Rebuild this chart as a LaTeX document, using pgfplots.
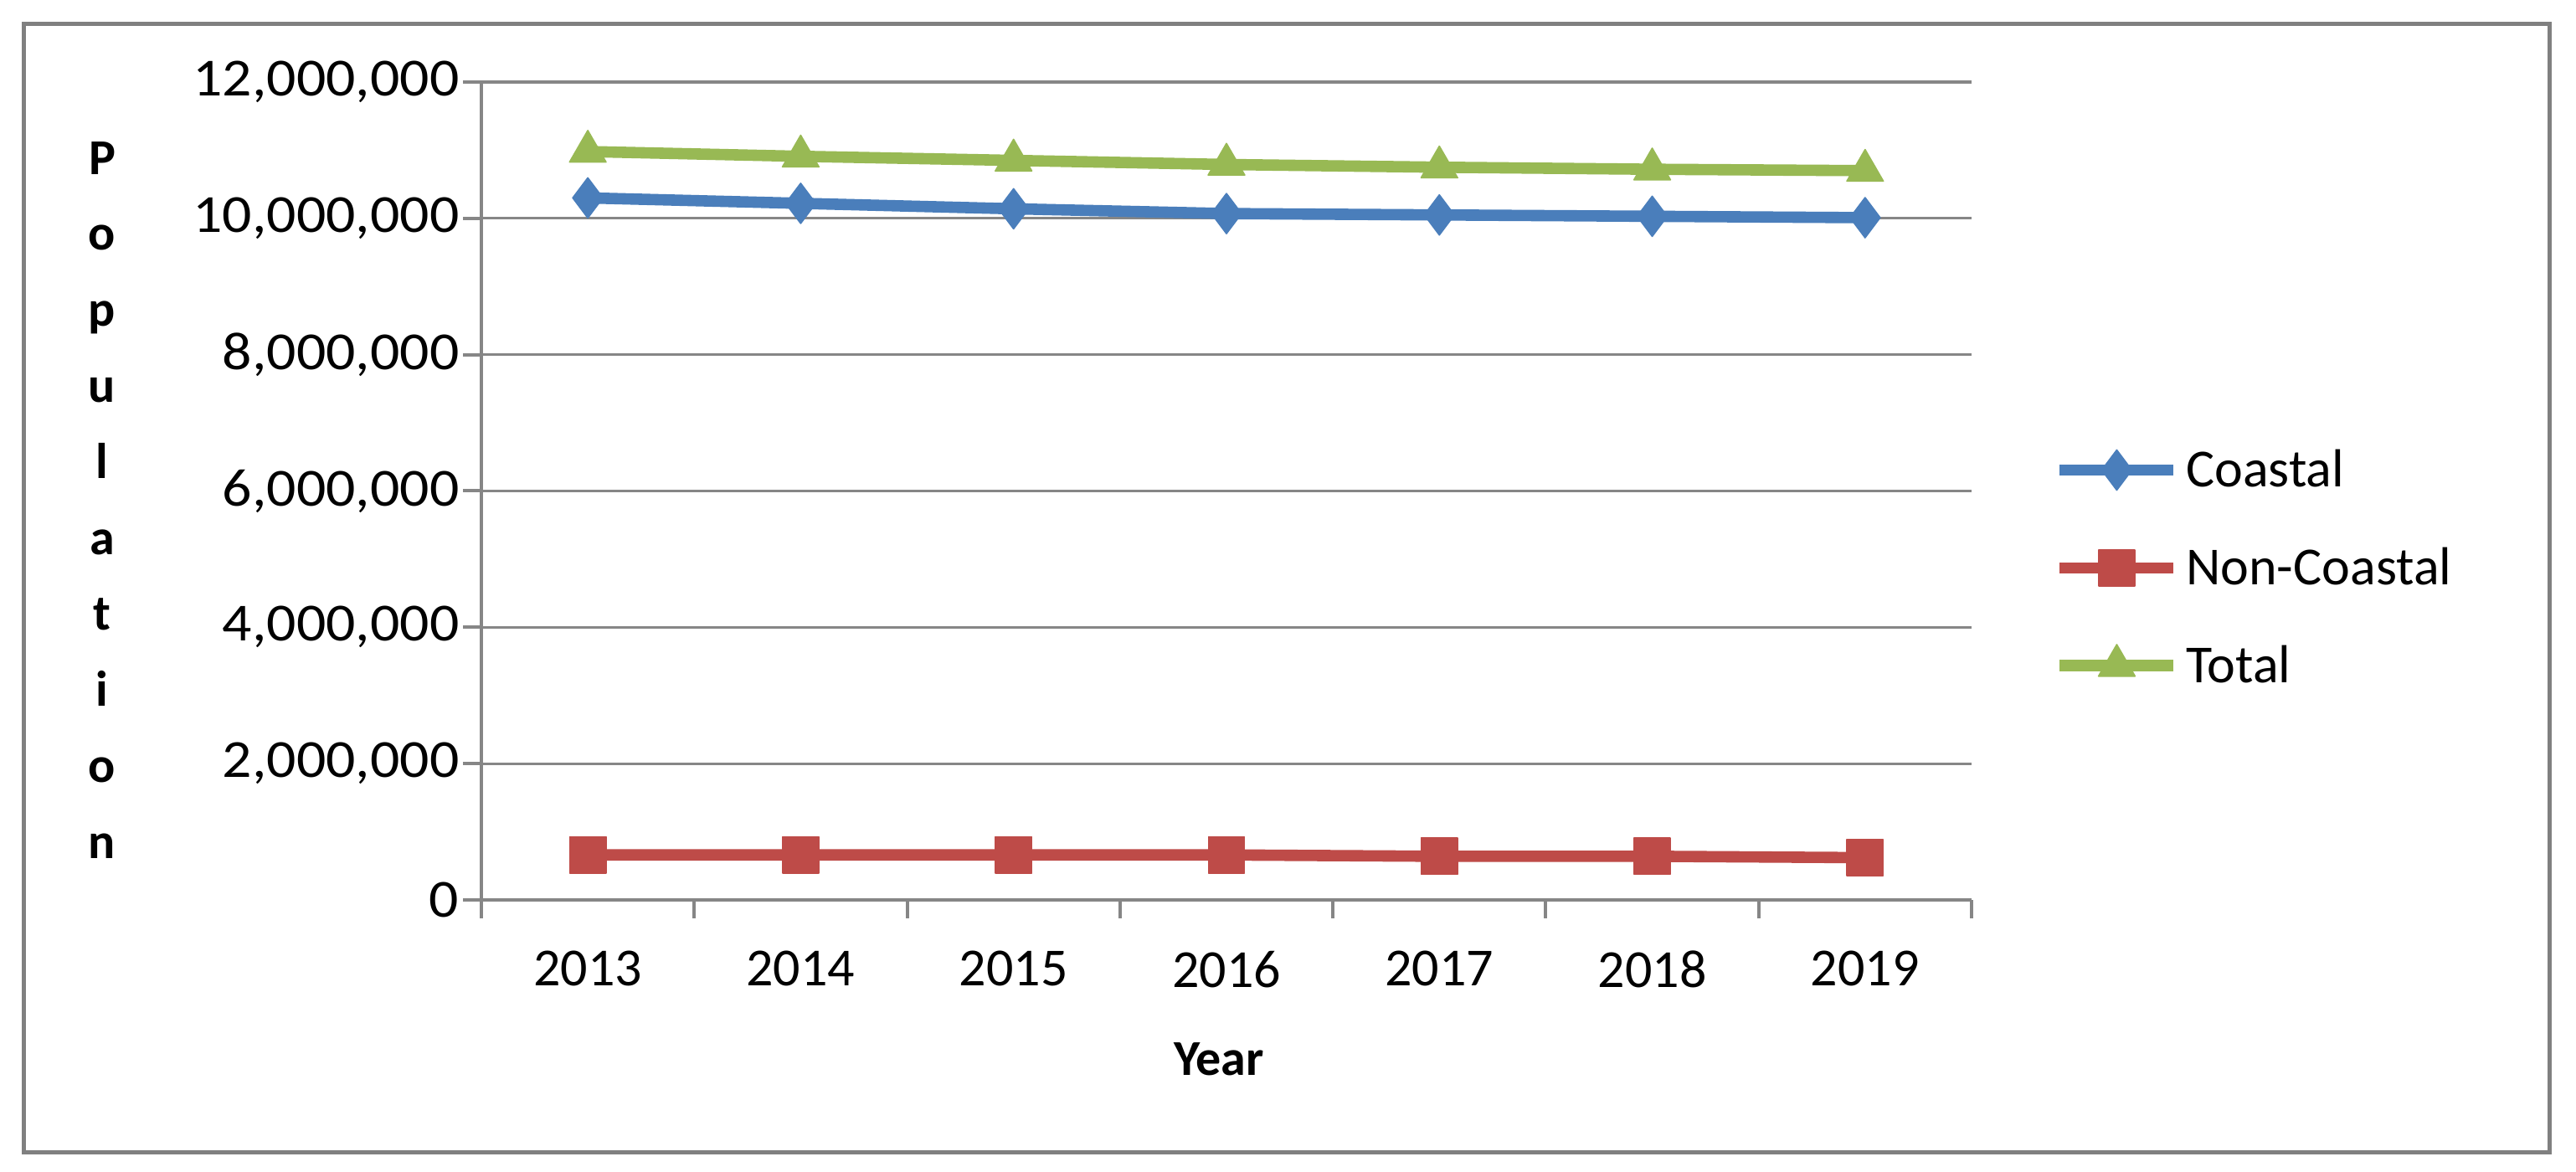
\documentclass[border=0pt]{standalone}
\usepackage{fontspec}
\setmainfont{Carlito}
\usepackage{pgfplots}
\pgfplotsset{compat=1.18}
\definecolor{cblue}{HTML}{4A7EBB}
\definecolor{cred}{HTML}{BE4B48}
\definecolor{cgreen}{HTML}{98B954}
\definecolor{gridgray}{HTML}{868686}
\definecolor{framegray}{HTML}{808080}
\begin{document}
\begin{tikzpicture}
\useasboundingbox (-143.75pt,-81.25pt) rectangle (625.5pt,268.75pt);
\fill[white] (-143.75pt,-81.25pt) rectangle (625.5pt,268.75pt);
\draw[framegray, line width=1.25pt] (-136.5pt,-75.5pt) rectangle (617.5pt,261.5pt);
\begin{axis}[
  at={(0,0)}, anchor=south west,
  scale only axis, width=445pt, height=244.25pt,
  xmin=2012.5, xmax=2019.5, ymin=0, ymax=12000000,
  axis x line=bottom, axis y line=left,
  axis line style={-, draw=gridgray, line width=1pt},
  tick align=outside, major tick length=5.5pt,
  tick style={gridgray, line width=1pt},
  scaled y ticks=false,
  xtick={2012.5,2013.5,2014.5,2015.5,2016.5,2017.5,2018.5,2019.5},
  xticklabels={},
  extra x ticks={2013,2014,2015,2016,2017,2018,2019},
  extra x tick labels={2013,2014,2015,2016,2017,2018,2019},
  extra x tick style={major tick length=0pt, tick style={draw=none}},
  ytick={0,2000000,4000000,6000000,8000000,10000000,12000000},
  yticklabels={0,{2,000,000},{4,000,000},{6,000,000},{8,000,000},{10,000,000},{12,000,000}},
  /pgf/number format/assume math mode=true,
  ticklabel style={font=\fontsize{16}{19}\selectfont, text=black},
  xticklabel style={anchor=north, inner sep=0pt, yshift=-15pt},
  yticklabel style={anchor=east, inner sep=0pt, xshift=-1pt, font=\fontsize{16}{19}\selectfont\addfontfeature{FakeStretch=1.09}},
  ymajorgrids, grid style={gridgray, line width=0.8pt},
  xlabel={Year},
  xlabel style={at={(axis description cs:0.495,-0.1945)}, anchor=center, font=\bfseries\fontsize{15}{18}\selectfont},
  ylabel={P\\o\\p\\u\\l\\a\\t\\i\\o\\n},
  ylabel style={rotate=-90, at={(axis description cs:-0.2545,0.489)}, anchor=center, align=center, font=\bfseries\fontsize{15}{22.7}\selectfont},
  legend style={draw=none, fill=none, at={(1.055,0.406)}, anchor=west, inner xsep=0pt, inner ysep=0pt, row sep=13.2pt, font=\fontsize{16}{19}\selectfont, nodes={text height=11pt, text depth=1pt, inner sep=2pt, anchor=west}},
  legend cell align=left,
  legend image code/.code={\draw[#1, mark repeat=2, mark phase=2] plot coordinates {(0pt,0pt) (17pt,0pt) (34pt,0pt)};},
  clip=false,
]
\addplot[cblue, line width=3.4pt, line join=round, mark=diamond*, mark size=6pt, mark options={line width=0.4pt, fill=cblue, draw=cblue}] coordinates {
(2013,10300000) (2014,10220000) (2015,10140000) (2016,10070000) (2017,10050000) (2018,10030000) (2019,10010000)};
\addlegendentry{Coastal}
\addplot[cred, line width=3.4pt, line join=round, mark=square*, mark size=5.4pt, mark options={line width=0.4pt, fill=cred, draw=cred}] coordinates {
(2013,660000) (2014,660000) (2015,660000) (2016,660000) (2017,640000) (2018,640000) (2019,620000)};
\addlegendentry{Non-Coastal}
\addplot[cgreen, line width=3.4pt, line join=round, mark=triangle*, mark size=6.3pt, mark options={line width=0.4pt, fill=cgreen, draw=cgreen}] coordinates {
(2013,10980000) (2014,10910000) (2015,10850000) (2016,10790000) (2017,10750000) (2018,10720000) (2019,10700000)};
\addlegendentry{Total}
\end{axis}
\end{tikzpicture}
\end{document}
